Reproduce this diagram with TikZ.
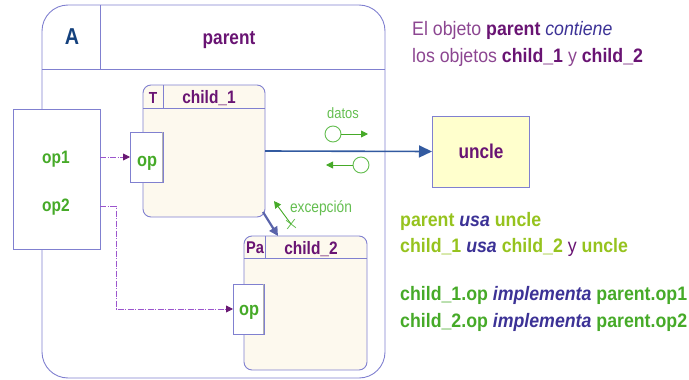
\documentclass[tikz,border=0pt]{standalone}
\usepackage{fontspec}
\setmainfont{Liberation Sans}[FakeStretch=0.86]
\newfontfamily\notefont{Liberation Sans}[FakeStretch=0.91]
\usetikzlibrary{arrows.meta,shapes.misc}

\definecolor{bordc}{RGB}{128,128,208}
\definecolor{cream}{RGB}{253,249,238}
\definecolor{uncfill}{RGB}{255,255,205}
\definecolor{purp}{RGB}{105,20,115}
\definecolor{mauve}{RGB}{140,70,145}
\definecolor{darkA}{RGB}{20,65,125}
\definecolor{opgreen}{RGB}{70,170,40}
\definecolor{ltgreen}{RGB}{100,190,80}
\definecolor{ygreen}{RGB}{150,195,30}
\definecolor{italblue}{RGB}{60,50,150}
\definecolor{linkblue}{RGB}{50,90,160}
\definecolor{childarr}{RGB}{90,100,170}
\definecolor{dashp}{RGB}{155,85,205}
\definecolor{tipp}{RGB}{105,25,115}

\begin{document}
\begin{tikzpicture}[x=1pt,y=-1pt,
  box/.style={draw=bordc, line width=0.9pt, inner sep=0pt, outer sep=0pt, anchor=north west},
  state/.style={box, fill=cream, rounded corners=8pt},
  port/.style={box, fill=white},
  edge/.style={draw=bordc, line width=0.9pt},
  lbl/.style={inner sep=0pt, anchor=base, font=\bfseries\fontsize{18}{18}\selectfont},
  txt/.style={inner sep=0pt, anchor=base west, font=\notefont\fontsize{19.5}{20}\selectfont},
  btxt/.style={txt, font=\notefont\bfseries\fontsize{19.5}{20}\selectfont},
  link/.style={draw=linkblue, line width=1.6pt, -{Triangle[length=13pt,width=12pt]}},
  nest/.style={draw=childarr, line width=2.2pt, -{Triangle[length=9pt,width=9pt]}},
  dep/.style={draw=dashp, line width=0.9pt, dash pattern=on 6pt off 1.5pt on 1pt off 1.5pt,
              -{Triangle[length=7pt,width=7pt,color=tipp]}},
  flow/.style={draw=opgreen, line width=0.9pt, -{Triangle[length=7pt,width=7pt]}},
  circ/.style={circle, draw=ltgreen, line width=0.9pt, fill=white, minimum size=16pt, inner sep=0pt}
]
\useasboundingbox (0,0) rectangle (689,380);

% container object with its header
\node[box, rounded corners=26pt, minimum width=343pt, minimum height=373pt] (parent) at (42,5) {};
\draw[edge] (parent.west |- 0,69) -- (parent.east |- 0,69);
\draw[edge] (100,5) -- (100,69);
\node[lbl, text=darkA, font=\bfseries\fontsize{23}{23}\selectfont] (Alabel) at (72,45) {A};
\node[lbl, text=purp, font=\bfseries\fontsize{20}{20}\selectfont] (plabel) at (229,45) {parent};

% operations box on the left border
\node[port, minimum width=87pt, minimum height=140pt] (ops) at (13,109) {};
\node[lbl, text=opgreen] (op1) at (56,163) {op1};
\node[lbl, text=opgreen] (op2) at (56,211) {op2};

% child_1
\node[state, minimum width=122pt, minimum height=132pt] (child1) at (143,85) {};
\draw[edge] (child1.west |- 0,108) -- (child1.east |- 0,108);
\draw[edge] (163,85) -- (163,108);
\node[lbl, text=purp, font=\bfseries\fontsize{16}{16}\selectfont] (c1tag) at (153,103) {T};
\node[lbl, text=purp] (c1label) at (209,103) {child\_1};
\node[port, minimum width=33pt, minimum height=50pt] (port1) at (130,132) {};
\draw[black!30, line width=1.4pt] ([xshift=-0.8pt]port1.north east) -- ([xshift=-0.8pt]port1.south east);
\node[lbl, text=opgreen, font=\bfseries\fontsize{19}{19}\selectfont] (p1label) at (147,166) {op};

% child_2
\node[state, minimum width=123pt, minimum height=134pt] (child2) at (244,236) {};
\draw[edge] (child2.west |- 0,258) -- (child2.east |- 0,258);
\draw[edge] (265,236) -- (265,258);
\begin{scope}
  \clip (245,238) rectangle (264.5,258);
  \node[lbl, anchor=base west, text=purp, font=\bfseries\fontsize{17}{17}\selectfont] (c2tag) at (246,253) {Pa};
\end{scope}
\node[lbl, text=purp] (c2label) at (311,254) {child\_2};
\node[port, minimum width=31pt, minimum height=50pt] (port2) at (233,284) {};
\draw[black!30, line width=1.4pt] ([xshift=-0.8pt]port2.north east) -- ([xshift=-0.8pt]port2.south east);
\node[lbl, text=opgreen, font=\bfseries\fontsize{19}{19}\selectfont] (p2label) at (249,315) {op};

% uncle
\node[box, fill=uncfill, minimum width=97pt, minimum height=71pt] (uncle) at (432,116) {};
\node[lbl, text=purp, font=\bfseries\fontsize{20}{20}\selectfont] (ulabel) at (481,158) {uncle};

% connectors
\draw[link] (child1.east) -- (uncle.west);
\draw[nest] ([xshift=-2pt,yshift=5pt]child1.south east) -- ([xshift=34pt]child2.north west);
\draw[dep] (ops.east |- port1.west) -- (port1.west);
\draw[dep] (ops.east |- op2) -| ([xshift=-117pt]port2.west) -- (port2.west);

% data flow symbols
\node[inner sep=0pt, text=ltgreen, font=\fontsize{15}{15}\selectfont] (datos) at (343,113) {datos};
\node[circ] (d1) at (333,134) {};
\coordinate (d1end) at (368,134);
\draw[flow] (d1) -- (d1end);
\node[circ] (d2) at (361,165) {};
\coordinate (d2end) at (326,165);
\draw[flow] (d2) -- (d2end);

% exception signal
\node[cross out, draw=ltgreen, line width=0.8pt, minimum size=8pt, inner sep=0pt, rotate=8] (xmark) at (291,224) {};
\coordinate (xtip) at (274,201);
\draw[flow] (xmark.center) -- (xtip);
\node[inner sep=0pt, text=ltgreen, font=\fontsize{16}{16}\selectfont] (exc) at (321,208) {excepción};

% explanatory notes
\node[txt] (n1) at (412,35) {\textcolor{mauve}{El objeto} \textcolor{purp}{\bfseries parent} \textcolor{italblue}{\itshape contiene}};
\node[txt] (n2) at (412,63) {\textcolor{mauve}{los objetos} \textcolor{purp}{\bfseries child\_1} \textcolor{mauve}{y} \textcolor{purp}{\bfseries child\_2}};
\node[btxt] (n3) at (400,226) {\textcolor{ygreen}{parent} \textcolor{italblue}{\itshape usa} \textcolor{ygreen}{uncle}};
\node[btxt] (n4) at (400,252) {\textcolor{ygreen}{child\_1} \textcolor{italblue}{\itshape usa} \textcolor{ygreen}{child\_2} \textcolor{purp}{\mdseries y} \textcolor{ygreen}{uncle}};
\node[btxt] (n5) at (400,300) {\textcolor{opgreen}{child\_1.op} \textcolor{italblue}{\itshape implementa} \textcolor{opgreen}{parent.op1}};
\node[btxt] (n6) at (400,327) {\textcolor{opgreen}{child\_2.op} \textcolor{italblue}{\itshape implementa} \textcolor{opgreen}{parent.op2}};
\end{tikzpicture}
\end{document}
